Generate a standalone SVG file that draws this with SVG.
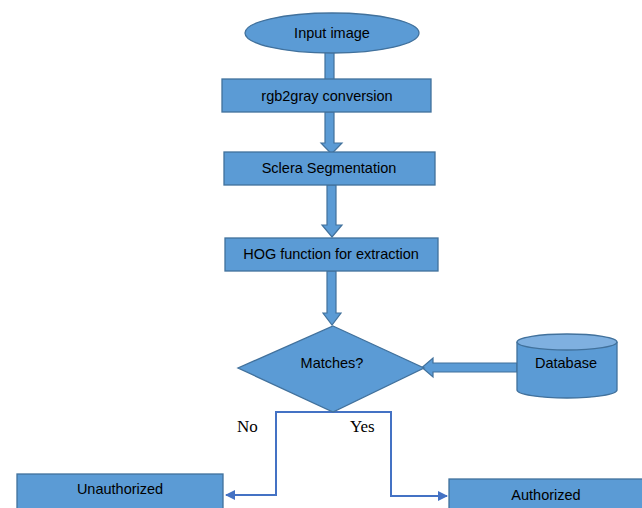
<svg xmlns="http://www.w3.org/2000/svg" width="642" height="508" viewBox="0 0 642 508">
<defs>
<style>
.n{fill:#5B9BD5;stroke:#41719C;stroke-width:1.3}
.ba{fill:#5B9BD5;stroke:#41719C;stroke-width:1.2}
.t{font-family:"Liberation Sans",Arial,sans-serif;font-size:14.5px;fill:#000;text-anchor:middle}
.s{font-family:"Liberation Serif","Times New Roman",serif;font-size:17px;fill:#000}
.ln{fill:none;stroke:#4472C4;stroke-width:2}
</style>
<marker id="ah" viewBox="0 0 10 10" refX="9" refY="5" markerWidth="5" markerHeight="5" orient="auto" markerUnits="strokeWidth">
<path d="M0,0 L10,5 L0,10 z" fill="#4472C4"/>
</marker>
</defs>
<rect width="642" height="508" fill="#fff"/>
<g id="connectors">
<path class="ba" d="M325,48 L334,48 L334,80 L338,80 L329.5,89 L321,80 L325,80 z"/>
<path class="ba" d="M325,112 L334,112 L334,143 L342,143 L331.5,154 L321,143 L325,143 z"/>
<path class="ba" d="M327,185 L336,185 L336,225 L342,225 L332,237 L322,225 L327,225 z"/>
<path class="ba" d="M327,271 L336,271 L336,313 L341,313 L332,325 L323,313 L327,313 z"/>
<path class="ba" d="M517,363 L517,372 L433,372 L433,377 L422,367.5 L433,358 L433,363 z"/>
<path class="ln" d="M333,412 L276,412 L276,495 L226,495" marker-end="url(#ah)"/>
<path class="ln" d="M333,412 L391,412 L391,496 L447,496" marker-end="url(#ah)"/>
<text class="s" x="237" y="432">No</text>
<text class="s" x="350" y="432">Yes</text>
</g>
<g id="input">
<ellipse class="n" cx="332" cy="33" rx="87" ry="20"/>
<text class="t" x="332" y="38">Input image</text>
</g>
<g id="rgb2gray">
<rect class="n" x="222" y="79" width="209" height="33"/>
<text class="t" x="327" y="101">rgb2gray conversion</text>
</g>
<g id="sclera">
<rect class="n" x="224" y="152" width="211" height="33"/>
<text class="t" x="329" y="173">Sclera Segmentation</text>
</g>
<g id="hog">
<rect class="n" x="225" y="238" width="213" height="33"/>
<text class="t" x="331" y="259">HOG function for extraction</text>
</g>
<g id="matches">
<path class="n" d="M333,326 L424,368 L333,412 L238,368 z"/>
<text class="t" x="332" y="368">Matches?</text>
</g>
<g id="database">
<path class="n" d="M517,342 L517,390 A50,8 0 0 0 617,390 L617,342"/>
<ellipse cx="567" cy="342" rx="50" ry="8" fill="#7FB0E0" stroke="#41719C" stroke-width="1.3"/>
<text class="t" x="566" y="368">Database</text>
</g>
<g id="unauthorized">
<rect class="n" x="17" y="474" width="206" height="40"/>
<text class="t" x="120" y="494">Unauthorized</text>
</g>
<g id="authorized">
<rect class="n" x="449" y="479" width="200" height="40"/>
<text class="t" x="546" y="500">Authorized</text>
</g>
</svg>
